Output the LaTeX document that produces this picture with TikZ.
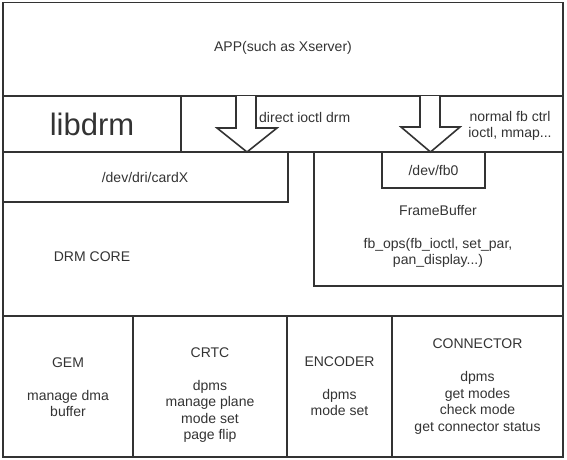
\documentclass[tikz,border=0pt]{standalone}
\usepackage{fontspec}
\setmainfont{Liberation Sans}
\definecolor{ink}{HTML}{333333}
\begin{document}
\begin{tikzpicture}[x=1pt,y=-1pt,
  frame/.style={draw=ink,line width=1.6pt},
  lbl/.style={text=ink,font=\fontsize{14}{16.5}\selectfont,inner sep=0pt,align=center},
  blockarrow/.style={draw=ink,line width=1.6pt,fill=white,line join=miter}]
\useasboundingbox (0,0) rectangle (567,460);
% outer frame and grid
\draw[frame] (3,2.5) rectangle (563,457);
\draw[frame] (3,96) -- (563,96);
\draw[frame] (3,152) -- (563,152);
\draw[frame] (181,96) -- (181,152);
\draw[frame] (288,152) -- (288,202) -- (3,202);
\draw[frame] (314,152) -- (314,286) -- (563,286);
\draw[frame] (382,152) rectangle (485,188);
\draw[frame] (3,316) -- (563,316);
\draw[frame] (133,316) -- (133,457);
\draw[frame] (287,316) -- (287,457);
\draw[frame] (392,316) -- (392,457);
% block arrows
\draw[blockarrow] (236,96) -- (236,128) -- (217,128) -- (247,152) -- (277,128) -- (256,128) -- (256,96);
\draw[blockarrow] (420,96) -- (420,127) -- (401,127) -- (430.5,152) -- (460,127) -- (440,127) -- (440,96);
% texts
\node[lbl] (app) at (283,48) {APP(such as Xserver)};
\node[lbl,font=\fontsize{31}{36}\selectfont] (libdrm) at (92,124) {libdrm};
\node[lbl,anchor=west] (direct) at (259,117) {direct ioctl drm};
\node[lbl] (normal) at (510,126) {normal fb ctrl\\ioctl, mmap...};
\node[lbl] (cardx) at (145,177) {/dev/dri/cardX};
\node[lbl] (fb0) at (433.5,170) {/dev/fb0};
\node[lbl] (fbuf) at (438,211) {FrameBuffer};
\node[lbl] (fbops) at (438,253) {fb\_ops(fb\_ioctl, set\_par,\\pan\_display...)};
\node[lbl] (core) at (92,257) {DRM CORE};
\node[lbl] (gem) at (68,387) {GEM\\[\baselineskip]manage dma\\buffer};
\node[lbl] (crtc) at (210,395) {CRTC\\[\baselineskip]dpms\\manage plane\\mode set\\page flip};
\node[lbl] (enc) at (339.5,386) {ENCODER\\[\baselineskip]dpms\\mode set};
\node[lbl] (conn) at (477.5,386.5) {CONNECTOR\\[\baselineskip]dpms\\get modes\\check mode\\get connector status};
\end{tikzpicture}
\end{document}
